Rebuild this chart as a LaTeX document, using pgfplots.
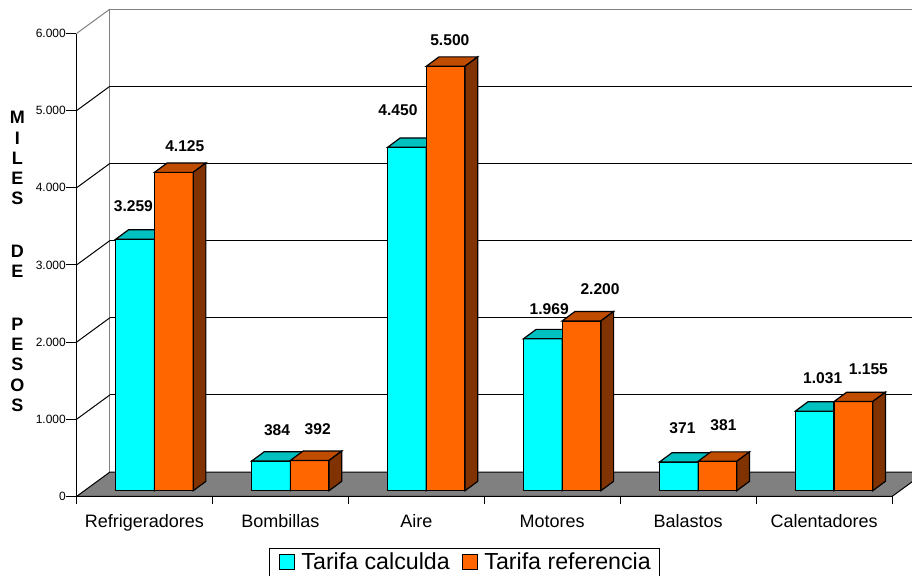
\documentclass[border=0pt]{standalone}
\usepackage{fontspec}
\setmainfont{Liberation Sans}
\usepackage{pgfplots}
\pgfplotsset{compat=1.18}
\usepackage{pgfplotstable}

\definecolor{cyanF}{HTML}{00FFFF}
\definecolor{cyanT}{HTML}{00C0C0}
\definecolor{cyanS}{HTML}{008080}
\definecolor{oranF}{HTML}{FF6600}
\definecolor{oranT}{HTML}{C04C00}
\definecolor{oranS}{HTML}{803300}
\definecolor{floorG}{HTML}{808080}

% x = category centre, v = value, dx/dy = label offset (pt) from bar front-top centre
\pgfplotstableread{
x    v     dx     dy
0.5  3259  -0.85  16.4
1.5  384   3      15.35
2.5  4450  -4.5   18.5
3.5  1969  3.2    14.9
4.5  371   1.85   17
5.5  1031  4      16.5
}\calc
\pgfplotstableread{
x    v     dx    dy
0.5  4125  5.5   13
1.5  392   4     15.85
2.5  5500  2.1   13
3.5  2200  9.25  16.1
4.5  381   3     18
5.5  1155  7.5   16
}\refe

% 3-D bar drawn at its front-top centre; height = value * y unit (231.5pt/6000)
\newcommand\declarebox[4]{%
\pgfdeclareplotmark{#1}{%
  \pgfsetfillcolor{#2}%
  \pgfpathrectanglecorners{\pgfqpoint{-9.675pt}{0pt}}{\pgfpoint{9.675pt}{-0.0385833pt*\pgfplotspointmeta}}%
  \pgfusepathqfillstroke
  \pgfsetfillcolor{#3}%
  \pgfpathmoveto{\pgfqpoint{-9.675pt}{0pt}}%
  \pgfpathlineto{\pgfqpoint{9.675pt}{0pt}}%
  \pgfpathlineto{\pgfqpoint{16.025pt}{4.7pt}}%
  \pgfpathlineto{\pgfqpoint{-3.325pt}{4.7pt}}%
  \pgfpathclose
  \pgfusepathqfillstroke
  \pgfsetfillcolor{#4}%
  \pgfpathmoveto{\pgfqpoint{9.675pt}{0pt}}%
  \pgfpathlineto{\pgfqpoint{16.025pt}{4.7pt}}%
  \pgfpathlineto{\pgfpoint{16.025pt}{4.7pt-0.0385833pt*\pgfplotspointmeta}}%
  \pgfpathlineto{\pgfpoint{9.675pt}{-0.0385833pt*\pgfplotspointmeta}}%
  \pgfpathclose
  \pgfusepathqfillstroke
}}
\declarebox{boxC}{cyanF}{cyanT}{cyanS}
\declarebox{boxO}{oranF}{oranT}{oranS}

\pgfplotsset{base/.style={scale only axis, width=407.75pt, height=231.5pt,
  xmin=0, xmax=6, ymin=0, ymax=6000, anchor=south west}}

\begin{document}
\begin{tikzpicture}
\useasboundingbox (-38.25pt,-39.75pt) rectangle (417.75pt,248.25pt);
% back wall
\begin{axis}[base, at={(16.7pt,12.2pt)},
  axis x line*=top, axis y line*=left,
  axis line style={-, draw=floorG, line width=0.5pt},
  xtick=\empty, ytick={1000,2000,3000,4000,5000}, yticklabels={},
  major tick length=0pt,
  ymajorgrids, grid style={black, line width=0.5pt}]
\end{axis}
% front frame, floor, ticks
\begin{axis}[base, at={(0pt,0pt)},
  axis x line*=bottom, axis y line*=left,
  axis line style={-, black, line width=0.5pt},
  axis on top, clip=false,
  xtick={0.5,1.5,2.5,3.5,4.5,5.5},
  xticklabels={Refrigeradores,Bombillas,Aire,Motores,Balastos,Calentadores},
  minor xtick={0,1,2,3,4,5,6},
  ytick={0,1000,2000,3000,4000,5000,6000},
  yticklabels={0,1.000,2.000,3.000,4.000,5.000,6.000},
  tick align=outside, major tick length=5pt, minor tick length=4pt,
  tick style={black, line width=0.5pt},
  major x tick style={draw=none},
  xticklabel style={font=\fontsize{9}{10}\selectfont, yshift=-0.6pt},
  yticklabel style={font=\fontsize{6}{7}\selectfont, xshift=3.2pt},
]
\fill[floorG, draw=black, line width=0.5pt] (axis cs:0,0) -- ([shift={(16.7pt,12.2pt)}]axis cs:0,0) -- ([shift={(16.7pt,12.2pt)}]axis cs:6,0) -- (axis cs:6,0) -- cycle;
\pgfplotsinvokeforeach{1000,2000,3000,4000,5000}{\draw[black, line width=0.5pt] (axis cs:0,#1) -- ++(16.7pt,12.2pt);}
\draw[floorG, line width=0.5pt] (axis cs:0,6000) -- ++(16.7pt,12.2pt);
\node[font=\bfseries\fontsize{9}{10.15}\selectfont, align=center, inner sep=0pt]
  at (axis description cs:-0.0724,0.5076) {M\\I\\L\\E\\S\\[16.2pt]D\\E\\[16pt]P\\E\\S\\O\\S};
\end{axis}
% bars
\begin{axis}[base, at={(5pt,2.9pt)}, axis lines=none, clip=false,
  /pgf/number format/fixed, /pgf/number format/precision=0,
  /pgf/number format/1000 sep={.}, /pgf/number format/assume math mode=true,
  legend columns=2,
  legend style={at={(axis description cs:0.4639,-0.155)}, anchor=center,
    draw=black, line width=0.5pt, font=\fontsize{11.6}{13}\selectfont,
    nodes={inner sep=0pt}, inner xsep=4.45pt, inner ysep=2pt,
    column sep=3.3pt, /tikz/every even column/.append style={column sep=6pt}},
  boxstyle/.style={scatter, only marks,
    mark options={draw=black, line width=0.6pt},
    scatter/@pre marker code/.code={\scope},
    scatter/@post marker code/.code={\endscope},
    point meta=explicit symbolic,
    legend image code/.code={\draw[fill=#1, draw=black, line width=0.5pt] (0pt,-3.75pt) rectangle (7.5pt,3.75pt);}},
  lblstyle/.style={forget plot, only marks, mark=text, text mark={},
    point meta=explicit, nodes near coords,
    every node near coord/.append style={anchor=center,
      font=\bfseries\fontsize{7.8}{9}\selectfont, text=black}},
]
\addplot[boxstyle=cyanF, mark=boxC] table[x expr=\thisrow{x}-0.14237, y=v, meta=v] {\calc};
\addlegendentry{Tarifa calculda}
\addplot[boxstyle=oranF, mark=boxO] table[x expr=\thisrow{x}+0.14237, y=v, meta=v] {\refe};
\addlegendentry{Tarifa referencia}
\addplot[lblstyle] table[x expr=\thisrow{x}-0.14237+\thisrow{dx}/67.9583,
  y expr=\thisrow{v}+\thisrow{dy}/0.0385833, meta=v] {\calc};
\addplot[lblstyle] table[x expr=\thisrow{x}+0.14237+\thisrow{dx}/67.9583,
  y expr=\thisrow{v}+\thisrow{dy}/0.0385833, meta=v] {\refe};
\end{axis}
\end{tikzpicture}
\end{document}
